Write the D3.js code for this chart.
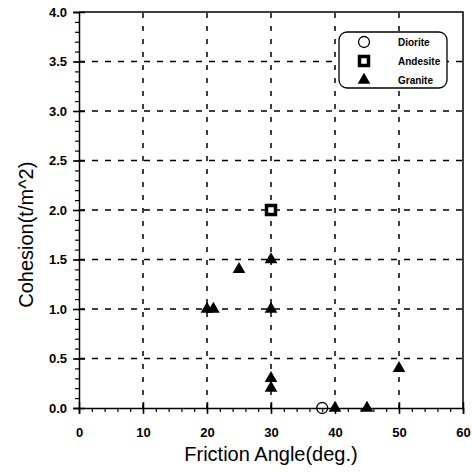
<!DOCTYPE html>
<html lang="en">
<head>
  <meta charset="UTF-8">
  <title>Cohesion vs Friction Angle</title>
  <script src="https://cdn.jsdelivr.net/npm/d3@7.6.1/dist/d3.min.js"></script>
  <style>
    body { margin: 0; background: #fff; }
    svg { display: block; font-family: "Liberation Sans", Arial, sans-serif; }
  </style>
</head>
<body>
  <div id="chart"></div>
  <script>
    const width = 472
    const height = 472
    const margin = { left: 79, right: 9, top: 12, bottom: 64 }

    // data
    const diorite = [[38, 0]]
    const andesite = [[30, 2.0]]
    const granite = [[20, 1.0], [21, 1.0], [25, 1.4], [30, 1.5], [30, 1.0], [30, 0.3], [30, 0.2], [40, 0], [45, 0], [50, 0.4]]
    const xTicks = [0, 10, 20, 30, 40, 50, 60]
    const yTicks = [0, 0.5, 1, 1.5, 2, 2.5, 3, 3.5, 4]
    const legendNames = ['Diorite', 'Andesite', 'Granite']

    const x = d3.scaleLinear().domain([0, 60]).range([margin.left, width - margin.right])
    const y = d3.scaleLinear().domain([0, 4]).range([height - margin.bottom, margin.top])

    const svg = d3.select('#chart').append('svg')
      .attr('width', width)
      .attr('height', height)

    // dashed grid
    svg.append('g').selectAll('line').data(xTicks.slice(1, -1))
      .enter().append('line')
      .attr('x1', d => x(d)).attr('x2', d => x(d))
      .attr('y1', y(0)).attr('y2', y(4))
      .attr('stroke', '#000').attr('stroke-width', 1.5)
      .attr('stroke-dasharray', '5,8')
    svg.append('g').selectAll('line').data(yTicks.slice(1, -1))
      .enter().append('line')
      .attr('x1', x(0)).attr('x2', x(60))
      .attr('y1', d => y(d)).attr('y2', d => y(d))
      .attr('stroke', '#000').attr('stroke-width', 1.5)
      .attr('stroke-dasharray', '6,7')

    // minor ticks
    svg.append('g')
      .attr('transform', `translate(0,${y(0)})`)
      .call(d3.axisBottom(x).tickValues(d3.range(0, 61, 2)).tickSize(4).tickFormat(''))
      .call(g => g.select('.domain').remove())
      .selectAll('line').attr('stroke-width', 1.2)
    svg.append('g')
      .attr('transform', `translate(${x(0)},0)`)
      .call(d3.axisLeft(y).tickValues(d3.range(0, 41).map(d => d / 10)).tickSize(4).tickFormat(''))
      .call(g => g.select('.domain').remove())
      .selectAll('line').attr('stroke-width', 1.2)

    // major axes
    const xAxis = svg.append('g')
      .attr('transform', `translate(0,${y(0)})`)
      .call(d3.axisBottom(x).tickValues(xTicks).tickSize(6).tickPadding(14).tickFormat(d3.format('d')))
    xAxis.selectAll('.tick line').attr('y1', -6).attr('stroke-width', 1.5)
    xAxis.select('.domain').attr('stroke-width', 1.5)
    xAxis.selectAll('text').attr('font-size', 13).attr('font-weight', 'bold')
      .attr('font-family', '"Liberation Sans", Arial, sans-serif')

    const yAxis = svg.append('g')
      .attr('transform', `translate(${x(0)},0)`)
      .call(d3.axisLeft(y).tickValues(yTicks).tickSize(6).tickPadding(6).tickFormat(d3.format('.1f')))
    yAxis.selectAll('.tick line').attr('x1', 6).attr('stroke-width', 1.5)
    yAxis.select('.domain').attr('stroke-width', 1.5)
    yAxis.selectAll('text').attr('font-size', 13).attr('font-weight', 'bold')
      .attr('font-family', '"Liberation Sans", Arial, sans-serif')

    // top and right frame
    svg.append('path')
      .attr('d', `M${x(0)},${y(4)}H${x(60)}V${y(0)}`)
      .attr('fill', 'none').attr('stroke', '#000').attr('stroke-width', 1.5)

    // axis titles
    svg.append('text')
      .attr('x', (x(0) + x(60)) / 2)
      .attr('y', 461)
      .attr('text-anchor', 'middle')
      .attr('font-size', 20)
      .text('Friction Angle(deg.)')
    svg.append('text')
      .attr('transform', `translate(33,${y(1.75)}) rotate(-90)`)
      .attr('text-anchor', 'middle')
      .attr('font-size', 20)
      .text('Cohesion(t/m^2)')

    // markers
    const tri = d3.symbol().type(d3.symbolTriangle).size(70)
    svg.append('g').selectAll('circle').data(diorite)
      .enter().append('circle')
      .attr('cx', d => x(d[0])).attr('cy', d => y(d[1]))
      .attr('r', 5.5).attr('fill', 'none').attr('stroke', '#000').attr('stroke-width', 1.3)
    svg.append('g').selectAll('rect').data(andesite)
      .enter().append('rect')
      .attr('x', d => x(d[0]) - 4.5).attr('y', d => y(d[1]) - 4.5)
      .attr('width', 9).attr('height', 9)
      .attr('fill', '#fff').attr('stroke', '#000').attr('stroke-width', 3.5)
    svg.append('g').selectAll('path').data(granite)
      .enter().append('path')
      .attr('d', tri)
      .attr('transform', d => `translate(${x(d[0])},${y(d[1])})`)
      .attr('fill', '#000')

    // legend
    const legend = svg.append('g')
    legend.append('rect')
      .attr('x', 339).attr('y', 32).attr('width', 108).attr('height', 56)
      .attr('rx', 8).attr('fill', '#fff').attr('stroke', '#000').attr('stroke-width', 1.3)
    const rows = legend.selectAll('g').data(legendNames)
      .enter().append('g')
      .attr('transform', (d, i) => `translate(364,${42 + i * 19})`)
    rows.append('text')
      .attr('x', 34).attr('dy', '0.35em')
      .attr('font-size', 10).attr('font-weight', 'bold')
      .text(d => d)
    rows.filter((d, i) => i === 0).append('circle')
      .attr('r', 5.5).attr('fill', 'none').attr('stroke', '#000').attr('stroke-width', 1.3)
    rows.filter((d, i) => i === 1).append('rect')
      .attr('x', -4.5).attr('y', -4.5).attr('width', 9).attr('height', 9)
      .attr('fill', '#fff').attr('stroke', '#000').attr('stroke-width', 3.5)
    rows.filter((d, i) => i === 2).append('path')
      .attr('d', tri).attr('fill', '#000')
  </script>
</body>
</html>
